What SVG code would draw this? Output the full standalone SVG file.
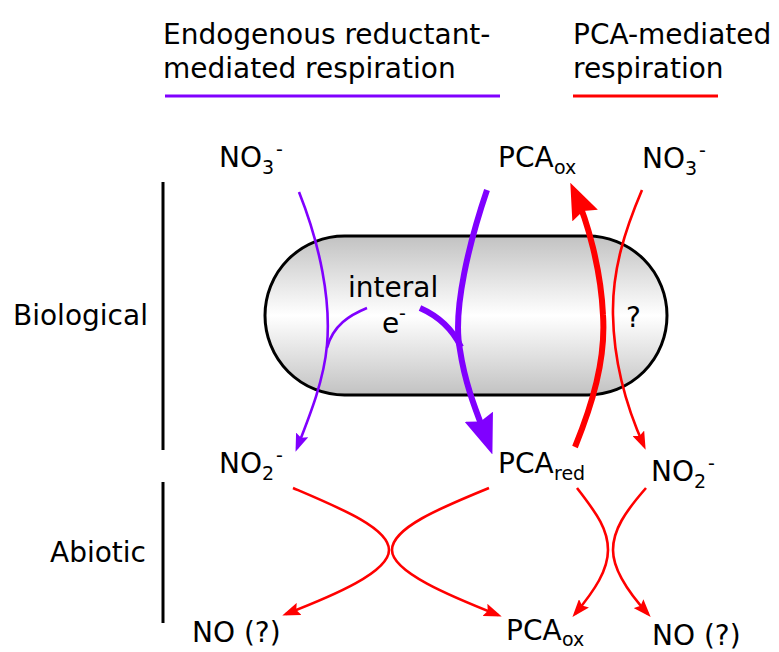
<svg xmlns="http://www.w3.org/2000/svg" width="779" height="652" viewBox="0 0 779 652">
  <style>
    text { font-family: "DejaVu Sans", "Liberation Sans", sans-serif; fill: #000; }
    .t { font-size: 28px; }
    .s { font-size: 19px; }
    .purple { stroke: #8000ff; fill: none; }
    .red { stroke: #ff0000; fill: none; }
    .thin { stroke-width: 2.6; }
    .thick { stroke-width: 6; }
    .bar { stroke: #000; stroke-width: 3; }
  </style>
  <defs>
    <linearGradient id="cellFill" x1="0" y1="0" x2="0" y2="1">
      <stop offset="0" stop-color="#c2c2c2"/>
      <stop offset="0.5" stop-color="#ffffff"/>
      <stop offset="1" stop-color="#c2c2c2"/>
    </linearGradient>
    <marker id="headPurple" viewBox="0 0 18 13" markerWidth="18" markerHeight="13" refX="14" refY="6.5" orient="auto" markerUnits="userSpaceOnUse">
      <path d="M0,0 L18,6.5 L0,13 L3,6.5 z" fill="#8000ff"/>
    </marker>
    <marker id="headRed" viewBox="0 0 18 13" markerWidth="18" markerHeight="13" refX="14" refY="6.5" orient="auto" markerUnits="userSpaceOnUse">
      <path d="M0,0 L18,6.5 L0,13 L3,6.5 z" fill="#ff0000"/>
    </marker>
    <marker id="bigPurple" viewBox="0 0 40 30" markerWidth="40" markerHeight="30" refX="30" refY="15" orient="auto" markerUnits="userSpaceOnUse">
      <path d="M0,0 L40,15 L0,30 L5,15 z" fill="#8000ff"/>
    </marker>
    <marker id="bigRed" viewBox="0 0 36 28" markerWidth="36" markerHeight="28" refX="27" refY="14" orient="auto" markerUnits="userSpaceOnUse">
      <path d="M0,0 L36,14 L0,28 L5,14 z" fill="#ff0000"/>
    </marker>
  </defs>

  <!-- legend -->
  <g id="legend-endogenous">
    <text class="t" x="163" y="44">Endogenous reductant-</text>
    <text class="t" x="163" y="78">mediated respiration</text>
    <line x1="165" y1="96" x2="500" y2="96" stroke="#8000ff" stroke-width="3"/>
  </g>
  <g id="legend-pca">
    <text class="t" x="573" y="44">PCA-mediated</text>
    <text class="t" x="573" y="78">respiration</text>
    <line x1="573" y1="96" x2="718" y2="96" stroke="#ff0000" stroke-width="3"/>
  </g>

  <!-- side brackets -->
  <g id="biological">
    <line class="bar" x1="163" y1="182" x2="163" y2="450"/>
    <text class="t" x="13" y="325">Biological</text>
  </g>
  <g id="abiotic">
    <line class="bar" x1="163" y1="482" x2="163" y2="623"/>
    <text class="t" x="50" y="562">Abiotic</text>
  </g>

  <!-- cell -->
  <g id="cell">
    <rect x="265" y="236" width="402" height="159" rx="79.5" ry="79.5" fill="url(#cellFill)" stroke="#000" stroke-width="3"/>
    <text class="t" x="348" y="297">interal</text>
    <text class="t" x="382" y="333">e</text>
    <text class="s" x="399" y="320">-</text>
    <text class="t" x="626" y="327">?</text>
  </g>

  <!-- species -->
  <g id="no3-left">
    <text class="t" x="219" y="167">NO</text>
    <text class="s" x="262" y="174">3</text>
    <text class="s" x="276" y="156">-</text>
  </g>
  <g id="pcaox-top">
    <text class="t" x="498" y="167">PCA</text>
    <text class="s" x="554" y="174">ox</text>
  </g>
  <g id="no3-right">
    <text class="t" x="642" y="168">NO</text>
    <text class="s" x="685" y="175">3</text>
    <text class="s" x="699" y="157">-</text>
  </g>
  <g id="no2-left">
    <text class="t" x="219" y="473">NO</text>
    <text class="s" x="262" y="480">2</text>
    <text class="s" x="276" y="462">-</text>
  </g>
  <g id="pcared">
    <text class="t" x="498" y="473">PCA</text>
    <text class="s" x="554" y="480">red</text>
  </g>
  <g id="no2-right">
    <text class="t" x="651" y="481">NO</text>
    <text class="s" x="694" y="488">2</text>
    <text class="s" x="708" y="470">-</text>
  </g>
  <g id="no-left">
    <text class="t" x="192" y="642">NO (?)</text>
  </g>
  <g id="pcaox-bottom">
    <text class="t" x="506" y="640">PCA</text>
    <text class="s" x="562" y="646">ox</text>
  </g>
  <g id="no-right">
    <text class="t" x="652" y="645">NO (?)</text>
  </g>

  <!-- connectors -->
  <g id="connectors">
    <!-- endogenous reductant: nitrate to nitrite -->
    <path class="purple thin" d="M299,192 C320,245 331,300 327,345 C324,380 310,415 297,448" marker-end="url(#headPurple)"/>
    <path class="purple thin" d="M367,308 C350,315 333,325 327,348"/>
    <!-- endogenous reductant: PCA reduction -->
    <path class="purple thick" d="M487,190 C470,240 452,310 460,350 C466,390 480,420 489,445" marker-end="url(#bigPurple)"/>
    <path class="purple thick" d="M420,308 C438,316 452,328 461,347"/>
    <!-- PCA re-oxidation by the cell -->
    <path class="red thick" d="M575,447 C592,405 606,360 603,315 C601,270 588,222 574,191" marker-end="url(#bigRed)"/>
    <!-- PCA-mediated nitrate reduction -->
    <path class="red thin" d="M642,190 C625,230 612,270 613,315 C614,370 630,415 644,446" marker-end="url(#headRed)"/>
    <!-- abiotic reactions -->
    <path class="red thin" d="M293,488 C340,508 389,528 389,550 C389,572 335,595 286,614" marker-end="url(#headRed)"/>
    <path class="red thin" d="M489,488 C440,508 392,528 392,550 C392,572 450,596 498,615" marker-end="url(#headRed)"/>
    <path class="red thin" d="M577,488 C598,515 608,530 608,550 C608,570 595,590 575,614" marker-end="url(#headRed)"/>
    <path class="red thin" d="M646,488 C625,512 613,530 613,550 C613,570 628,592 648,614" marker-end="url(#headRed)"/>
  </g>
</svg>
